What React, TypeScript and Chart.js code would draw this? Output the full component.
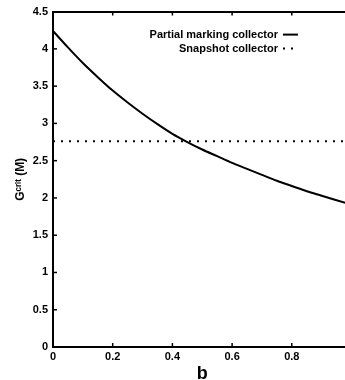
import React, { useEffect, useRef } from "react";
import { Chart, registerables } from "chart.js";

Chart.register(...registerables);

const bValues = [0, 0.05, 0.1, 0.15, 0.2, 0.25, 0.3, 0.35, 0.4, 0.45, 0.5, 0.55, 0.6, 0.65, 0.7, 0.75, 0.8, 0.85, 0.9, 0.95, 1.0];
const partialMarking = [4.24, 4.02, 3.81, 3.62, 3.44, 3.28, 3.13, 2.99, 2.86, 2.75, 2.65, 2.56, 2.47, 2.39, 2.31, 2.23, 2.16, 2.09, 2.03, 1.97, 1.91];
const snapshotB = [0, 1];
const snapshotValues = [2.76, 2.76];
const seriesLabels = ["Partial marking collector", "Snapshot collector"];
const xTicks = [0, 0.2, 0.4, 0.6, 0.8, 1];
const yTicks = [0, 0.5, 1, 1.5, 2, 2.5, 3, 3.5, 4, 4.5];

const FONT = "'Liberation Sans', Arial, sans-serif";

const fmt = (v: number) => String(Number(Number(v).toFixed(1)));

const innerTicks = {
  id: "innerTicks",
  afterDraw(chart: any) {
    const { ctx, chartArea, scales } = chart;
    ctx.save();
    ctx.strokeStyle = "#000";
    ctx.lineWidth = 1.5;
    const x = scales.x;
    const y = scales.y;
    xTicks.forEach((v) => {
      if (v <= 0 || v >= 1) return;
      const px = x.getPixelForValue(v);
      ctx.beginPath();
      ctx.moveTo(px, chartArea.bottom);
      ctx.lineTo(px, chartArea.bottom - 4);
      ctx.moveTo(px, chartArea.top);
      ctx.lineTo(px, chartArea.top + 4);
      ctx.stroke();
    });
    yTicks.forEach((v) => {
      if (v <= 0 || v >= 4.5) return;
      const py = y.getPixelForValue(v);
      ctx.beginPath();
      ctx.moveTo(chartArea.left, py);
      ctx.lineTo(chartArea.left + 4, py);
      ctx.stroke();
    });
    ctx.restore();
  },
};

const insideLegend = {
  id: "insideLegend",
  afterDraw(chart: any) {
    const { ctx, chartArea } = chart;
    const textRight = chartArea.left + 225;
    const rows = [chartArea.top + 23, chartArea.top + 37];
    ctx.save();
    ctx.font = "bold 11px " + FONT;
    ctx.textAlign = "right";
    ctx.textBaseline = "middle";
    ctx.fillStyle = "#000";
    chart.data.datasets.forEach((ds: any, i: number) => {
      const yy = rows[i];
      ctx.fillText(ds.label, textRight, yy);
      ctx.beginPath();
      ctx.strokeStyle = "#000";
      ctx.lineWidth = 2;
      ctx.setLineDash(ds.borderDash || []);
      ctx.moveTo(textRight + 5, yy);
      ctx.lineTo(textRight + 20, yy);
      ctx.stroke();
    });
    ctx.restore();
  },
};

export default function App() {
  const ref = useRef<HTMLCanvasElement | null>(null);
  useEffect(() => {
    if (!ref.current) return;
    const chart = new Chart(ref.current, {
      type: "line",
      data: {
        datasets: [
          {
            label: seriesLabels[0],
            data: bValues.map((b, i) => ({ x: b, y: partialMarking[i] })),
            borderColor: "#000",
            borderWidth: 2,
            pointRadius: 0,
            cubicInterpolationMode: "monotone",
            fill: false,
          },
          {
            label: seriesLabels[1],
            data: snapshotB.map((b, i) => ({ x: b, y: snapshotValues[i] })),
            borderColor: "#000",
            borderWidth: 2,
            borderDash: [2, 6],
            pointRadius: 0,
            fill: false,
          },
        ],
      },
      options: {
        responsive: false,
        animation: false,
        layout: { padding: { left: 0, right: 8.5, top: 0, bottom: 0 } },
        plugins: { legend: { display: false }, tooltip: { enabled: false } },
        scales: {
          x: {
            type: "linear",
            position: "bottom",
            min: 0,
            max: 1,
            afterBuildTicks: (s: any) => {
              s.ticks = xTicks.map((v) => ({ value: v }));
            },
            afterFit: (s: any) => {
              s.height = 33;
            },
            grid: { display: false, drawTicks: false },
            border: { display: true, color: "#000", width: 2 },
            ticks: {
              color: "#000",
              padding: 3,
              font: { family: FONT, size: 11, weight: "bold" },
              callback: (v: any) => fmt(v),
              maxRotation: 0,
            },
            title: {
              display: true,
              text: "b",
              color: "#000",
              padding: { top: 0, bottom: -5 },
              font: { family: FONT, size: 18, weight: "bold" },
            },
          },
          x2: {
            type: "linear",
            position: "top",
            min: 0,
            max: 1,
            afterFit: (s: any) => {
              s.height = 10;
            },
            grid: { display: false, drawTicks: false },
            border: { display: true, color: "#000", width: 2 },
            ticks: { display: false },
          },
          y: {
            type: "linear",
            min: 0,
            max: 4.5,
            afterBuildTicks: (s: any) => {
              s.ticks = yTicks.map((v) => ({ value: v }));
            },
            afterFit: (s: any) => {
              s.width = 53;
            },
            grid: { display: false, drawTicks: false },
            border: { display: true, color: "#000", width: 2 },
            ticks: {
              color: "#000",
              padding: 5,
              font: { family: FONT, size: 11, weight: "bold" },
              callback: (v: any) => fmt(v),
            },
            title: {
              display: true,
              text: "Gᶜʳⁱᵗ (M)",
              color: "#000",
              padding: { top: 13, bottom: 0 },
              font: { family: FONT, size: 12, weight: "bold" },
            },
          },
        },
      },
      plugins: [innerTicks, insideLegend],
    } as any);
    return () => chart.destroy();
  }, []);
  return (
    <div style={{ position: "absolute", left: 0, top: 0, width: 345, height: 380, overflow: "hidden", background: "#fff" }}>
      <canvas ref={ref} width={360} height={380} style={{ display: "block" }} />
    </div>
  );
}
